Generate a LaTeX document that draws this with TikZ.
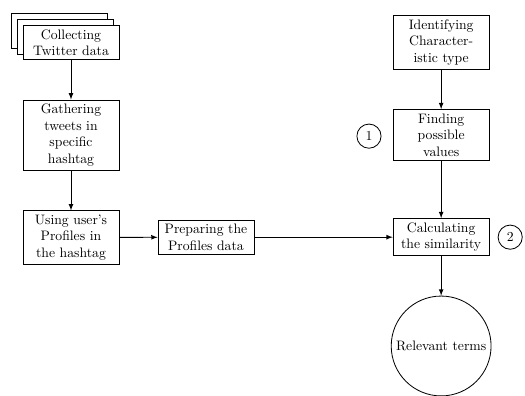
\documentclass[tikz,border=0pt]{standalone}
\usetikzlibrary{shadows,arrows}

\begin{document}
\begin{tikzpicture}[
    box/.style={draw, semithick, align=center, minimum width=2.46cm, inner sep=3pt, fill=white},
    stackbox/.style={box, double copy shadow={shadow xshift=-0.15cm, shadow yshift=0.15cm, semithick}},
    numcircle/.style={draw, semithick, circle, minimum size=0.62cm, inner sep=0pt},
    endcircle/.style={draw, semithick, circle, minimum size=2.56cm, inner sep=0pt},
    flow/.style={semithick, -latex}]
    \useasboundingbox (0,0) rectangle (13.46,-10.15);

    \node[stackbox] (collect) at (1.82,-1.09) {Collecting \\ Twitter data};
    \node[box] (gather) at (1.82,-3.46) {Gathering \\ tweets in \\ specific \\ hashtag};
    \node[box] (profiles) at (1.82,-6.09) {Using user's \\ Profiles in \\ the hashtag};
    \node[box] (prepare) at (5.28,-6.08) {Preparing the \\ Profiles data};

    \node[box] (identify) at (11.31,-1.09) {Identifying \\ Character- \\ istic type};
    \node[box] (finding) at (11.31,-3.46) {Finding \\ possible \\ values};
    \node[box] (similarity) at (11.31,-6.08) {Calculating \\ the similarity};
    \node[endcircle] (terms) at (11.31,-8.87) {Relevant terms};

    \node[numcircle] (one) at (9.46,-3.49) {1};
    \node[numcircle] (two) at (13.08,-6.08) {2};

    \draw[flow] (collect) -- (gather);
    \draw[flow] (gather) -- (profiles);
    \draw[flow] (profiles) -- (prepare);
    \draw[flow] (prepare) -- (similarity);
    \draw[flow] (identify) -- (finding);
    \draw[flow] (finding) -- (similarity);
    \draw[flow] (similarity) -- (terms);
\end{tikzpicture}
\end{document}
